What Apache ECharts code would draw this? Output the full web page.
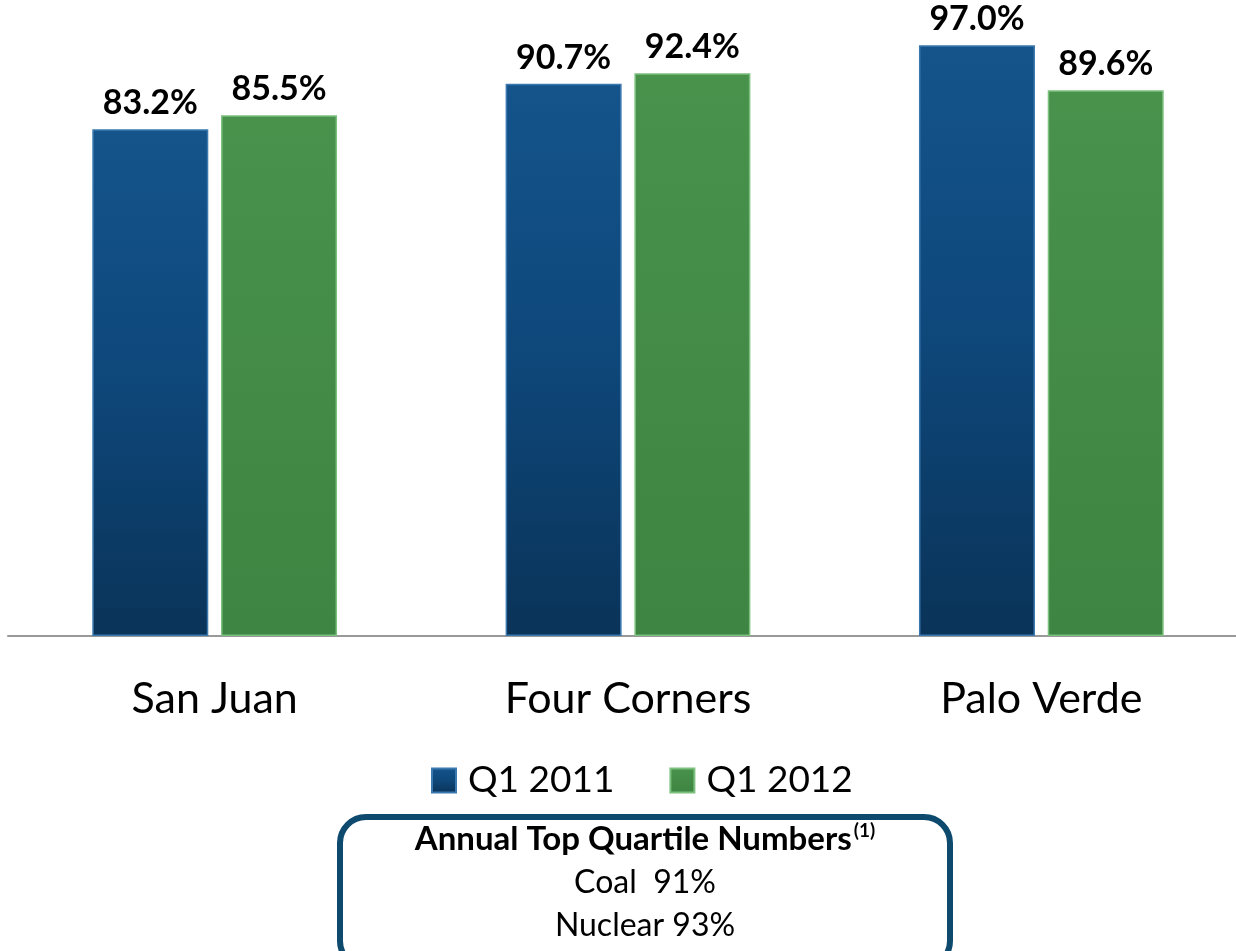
<!DOCTYPE html>
<html>
<head>
<meta charset="utf-8">
<script src="https://cdn.jsdelivr.net/npm/echarts@6/dist/echarts.min.js"></script>
<style>
html,body{margin:0;padding:0;background:#fff;}
#main{width:1236px;height:951px;}
</style>
</head>
<body>
<div id="main"></div>
<script>
var plants = ['San Juan', 'Four Corners', 'Palo Verde'];
var q1_2011 = [83.2, 90.7, 97.0];
var q1_2012 = [85.5, 92.4, 89.6];
var seriesNames = ['Q1 2011', 'Q1 2012'];
var boxTitle = 'Annual Top Quartile Numbers';
var boxLines = ['Coal  91%', 'Nuclear 93%'];

var font = 'Lato, "Open Sans", sans-serif';

var blueFill = new echarts.graphic.LinearGradient(0, 0, 0, 1, [
    {offset: 0, color: '#14548b'},
    {offset: 0.5, color: '#0e477a'},
    {offset: 1, color: '#0a3358'}
]);
var greenFill = new echarts.graphic.LinearGradient(0, 0, 0, 1, [
    {offset: 0, color: '#48924c'},
    {offset: 1, color: '#3e8442'}
]);

var chart = echarts.init(document.getElementById('main'));
//柱状图配置
var option = {
    animation: false,
    grid: {left: 8, top: 27, width: 1240, height: 609, outerBoundsMode: 'none', containLabel: false},
    xAxis: {
        type: 'category',
        data: plants,
        axisLine: {lineStyle: {color: '#999', width: 2}},
        axisTick: {show: false},
        axisLabel: {fontSize: 43, color: '#000', fontFamily: font, margin: 42}
    },
    yAxis: {type: 'value', min: 0, max: 100, show: false},
    legend: {
        top: 757,
        left: 426,
        itemWidth: 24,
        itemHeight: 24,
        itemGap: 55,
        icon: 'rect',
        textStyle: {fontSize: 37, fontFamily: font, color: '#000', padding: [0, 0, 0, 7]},
        data: seriesNames
    },
    series: [{
        name: seriesNames[0],
        type: 'bar',
        data: q1_2011,
        barWidth: 116,
        barGap: '11%',
        itemStyle: {color: blueFill, borderColor: '#3a79b0', borderWidth: 1.5},
        label: {
            show: true, position: 'top', distance: 9,
            formatter: function(p){ return p.value.toFixed(1) + '%'; },
            fontSize: 34, fontWeight: 'bold', color: '#000', fontFamily: font
        }
    }, {
        name: seriesNames[1],
        type: 'bar',
        data: q1_2012,
        barWidth: 116,
        itemStyle: {color: greenFill, borderColor: '#7cc07e', borderWidth: 1.5},
        label: {
            show: true, position: 'top', distance: 9,
            formatter: function(p){ return p.value.toFixed(1) + '%'; },
            fontSize: 34, fontWeight: 'bold', color: '#000', fontFamily: font
        }
    }],
    //下方说明框
    graphic: [{
        type: 'rect',
        shape: {x: 340, y: 817, width: 610, height: 150, r: 26},
        style: {fill: '#fff', stroke: '#0e4a6e', lineWidth: 6}
    }, {
        type: 'text',
        x: 645, y: 839,
        style: {
            text: '{b|' + boxTitle + '}{s|(1)}',
            rich: {
                b: {fontSize: 33, fontWeight: 'bold', fontFamily: font, fill: '#000'},
                s: {fontSize: 19, fontWeight: 'bold', fontFamily: font, fill: '#000', padding: [0, 0, 16, 2]}
            },
            align: 'center', verticalAlign: 'middle'
        }
    }, {
        type: 'text',
        x: 645, y: 883,
        style: {text: boxLines[0], fontSize: 32, fontFamily: font, fill: '#000', align: 'center', verticalAlign: 'middle'}
    }, {
        type: 'text',
        x: 645, y: 926,
        style: {text: boxLines[1], fontSize: 32, fontFamily: font, fill: '#000', align: 'center', verticalAlign: 'middle'}
    }]
};
chart.setOption(option);
</script>
</body>
</html>
